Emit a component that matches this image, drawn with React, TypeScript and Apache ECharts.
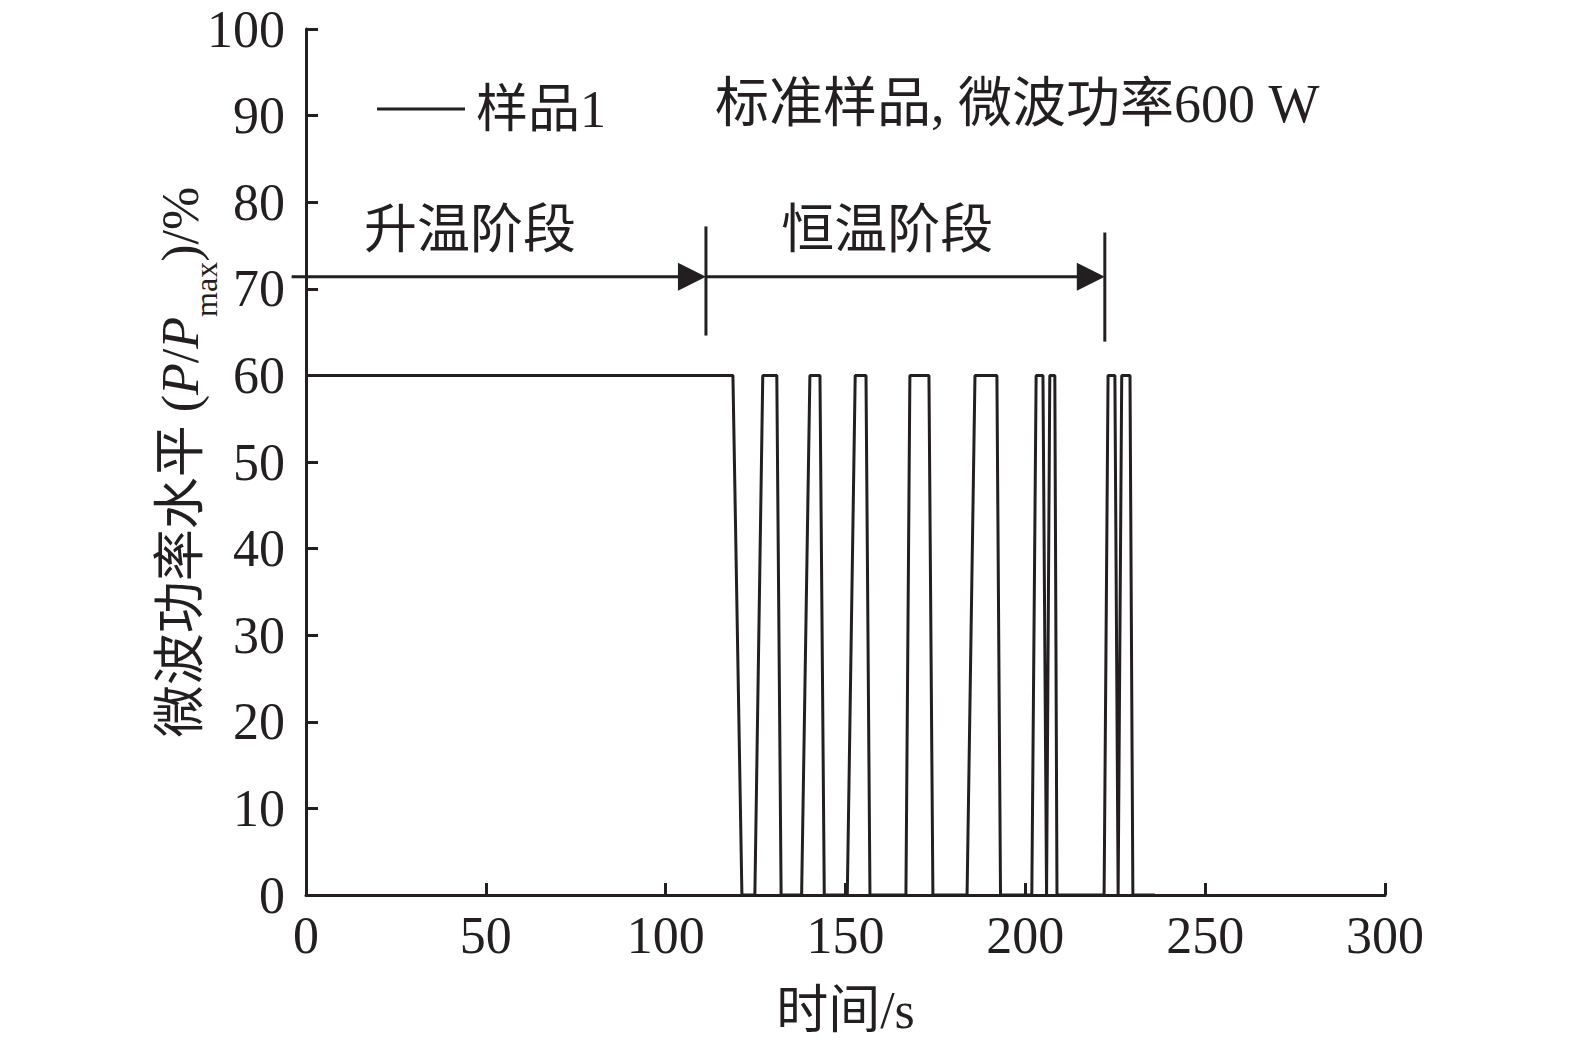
import React, { useEffect, useRef } from "react";
import * as echarts from "echarts";

// time (s) and microwave power level (%)
const timeS = [0, 118.7, 121.2, 124.8, 127.0, 130.9, 132.1, 137.8, 140.1, 142.9, 144.1, 150.5, 152.7, 155.7, 156.8, 166.8, 167.9, 173.2, 174.3, 183.8, 186.0, 192.1, 193.1, 201.8, 203.0, 204.9, 205.9, 206.8, 208.2, 208.8, 221.9, 223.0, 224.9, 225.8, 226.8, 229.1, 229.9, 236];
const power = [60, 60, 0, 0, 60, 60, 0, 0, 60, 60, 0, 0, 60, 60, 0, 0, 60, 60, 0, 0, 60, 60, 0, 0, 60, 60, 0, 60, 60, 0, 0, 60, 60, 0, 60, 60, 0, 0];

const seriesName = "样品1";
const noteText = "标准样品, 微波功率600 W";
const noteAt = [113.7, 91.3];

const arrowLevel = 71.4;
const arrowStart = -4;
const phaseBounds = [111.2, 222.1];
const phaseLineTop = [77.2, 76.5];
const phaseLineBottom = [64.6, 63.9];
const phaseLabels = ["升温阶段", "恒温阶段"];
const phaseLabelX = [45.6, 161.6];
const phaseLabelY = 76.8;

const INK = "#231f20";
const FONT = "'Liberation Serif', 'Noto Sans CJK SC', serif";
const FS = 52;

export default function App() {
  const ref = useRef<HTMLDivElement>(null);
  useEffect(() => {
    if (!ref.current) return;
    const chart = echarts.init(ref.current, undefined, { renderer: "svg" });
    const data = timeS.map((t, i) => [t, power[i]]);
    const option: any = {
      animation: false,
      backgroundColor: "#ffffff",
      grid: { left: 306, right: 190, top: 29, bottom: 145, containLabel: false },
      legend: {
        left: 372,
        top: 78,
        icon: "rect",
        itemWidth: 88,
        itemHeight: 3,
        itemStyle: { color: INK },
        textStyle: { fontSize: FS, fontFamily: FONT, color: INK, padding: [0, 0, 0, 6] },
        data: [seriesName],
      },
      xAxis: {
        type: "value",
        min: 0,
        max: 300,
        interval: 50,
        name: "时间/s",
        nameLocation: "middle",
        nameGap: 89,
        nameMoveOverlap: false,
        nameTextStyle: { fontSize: FS, fontFamily: FONT, color: INK },
        axisLine: { lineStyle: { color: INK, width: 3 } },
        axisTick: { inside: true, length: 12, lineStyle: { color: INK, width: 3 } },
        axisLabel: { margin: 14, fontSize: FS, fontFamily: FONT, color: INK },
        splitLine: { show: false },
      },
      yAxis: {
        type: "value",
        min: 0,
        max: 100,
        interval: 10,
        name: "微波功率水平 ({i|P}/{i|P}{sub|max})/%",
        nameLocation: "middle",
        nameRotate: 90,
        nameGap: 100,
        nameMoveOverlap: false,
        nameTextStyle: {
          fontSize: FS,
          fontFamily: FONT,
          color: INK,
          rich: {
            i: { fontSize: FS, fontFamily: FONT, fontStyle: "italic", color: INK },
            sub: { fontSize: 32, fontFamily: FONT, color: INK, verticalAlign: "bottom", padding: [0, 0, -16, 0] },
          },
        },
        axisLine: { show: true, lineStyle: { color: INK, width: 3 } },
        axisTick: { inside: true, length: 12, lineStyle: { color: INK, width: 3 } },
        axisLabel: { margin: 21, fontSize: FS, fontFamily: FONT, color: INK },
        splitLine: { show: false },
      },
      series: [
        {
          name: seriesName,
          type: "line",
          data,
          symbol: "none",
          lineStyle: { color: INK, width: 3 },
          itemStyle: { color: INK },
        },
      ],
    };
    chart.setOption(option);

    const px = (x: number, y: number) => chart.convertToPixel({ gridIndex: 0 }, [x, y]) as number[];
    const g: any[] = [];
    const starts = [arrowStart, phaseBounds[0]];
    phaseBounds.forEach((b, i) => {
      const a = px(starts[i], arrowLevel);
      const e = px(b, arrowLevel);
      g.push({ type: "line", shape: { x1: a[0], y1: a[1], x2: e[0] - 20, y2: e[1] }, style: { stroke: INK, lineWidth: 3 } });
      g.push({ type: "polygon", shape: { points: [[e[0], e[1]], [e[0] - 28, e[1] - 14], [e[0] - 28, e[1] + 14]] }, style: { fill: INK } });
      const t = px(b, phaseLineTop[i]);
      const bt = px(b, phaseLineBottom[i]);
      g.push({ type: "line", shape: { x1: t[0], y1: t[1], x2: bt[0], y2: bt[1] }, style: { stroke: INK, lineWidth: 3 } });
      const l = px(phaseLabelX[i], phaseLabelY);
      g.push({ type: "text", x: l[0], y: l[1], style: { text: phaseLabels[i], fontSize: 53, fontFamily: FONT, fill: INK, align: "center", verticalAlign: "middle" } });
    });
    const n = px(noteAt[0], noteAt[1]);
    g.push({ type: "text", x: n[0], y: n[1], style: { text: noteText, fontSize: 54, fontFamily: FONT, fill: INK, align: "left", verticalAlign: "middle" } });
    chart.setOption({ graphic: g });

    return () => chart.dispose();
  }, []);
  return <div ref={ref} style={{ position: "fixed", left: 0, top: 0, width: 1575, height: 1041 }} />;
}
